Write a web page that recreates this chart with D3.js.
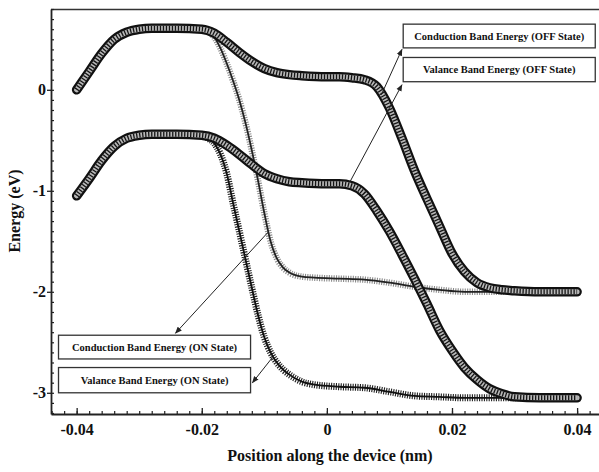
<!DOCTYPE html>
<html>
<head>
<meta charset="utf-8">
<script src="https://cdn.jsdelivr.net/npm/d3@7"></script>
<style>
  body { margin: 0; background: #fff; }
  text { font-family: "Liberation Serif", "Times New Roman", serif; font-weight: bold; fill: #111; }
</style>
</head>
<body>
<div id="chart"></div>
<script>
// position along the device (nm) for the OFF-state curves
var positionOff = [-0.040, -0.038, -0.036, -0.034, -0.032, -0.030, -0.028, -0.024, -0.020, -0.018,
                   -0.016, -0.014, -0.012, -0.010, -0.008, -0.006, -0.004, 0.000, 0.002, 0.004,
                   0.006, 0.008, 0.010, 0.012, 0.014, 0.016, 0.018, 0.020, 0.022, 0.024,
                   0.026, 0.028, 0.030, 0.034, 0.040];
var conductionOff = [0.00, 0.18, 0.36, 0.50, 0.57, 0.60, 0.61, 0.61, 0.60, 0.56,
                     0.47, 0.37, 0.28, 0.21, 0.17, 0.15, 0.14, 0.13, 0.13, 0.12,
                     0.10, 0.03, -0.18, -0.48, -0.80, -1.08, -1.35, -1.62, -1.80, -1.91,
                     -1.96, -1.98, -1.99, -2.00, -2.00];
var valenceOff = [-1.05, -0.88, -0.70, -0.56, -0.48, -0.45, -0.44, -0.44, -0.45, -0.48,
                  -0.55, -0.64, -0.74, -0.83, -0.88, -0.91, -0.92, -0.93, -0.93, -0.95,
                  -1.03, -1.20, -1.40, -1.63, -1.87, -2.12, -2.38, -2.58, -2.75, -2.87,
                  -2.96, -3.01, -3.04, -3.05, -3.05];

// position along the device (nm) for the ON-state curves
var positionOn = [-0.040, -0.038, -0.036, -0.034, -0.032, -0.030, -0.028, -0.024, -0.020, -0.019,
                  -0.018, -0.017, -0.016, -0.015, -0.014, -0.013, -0.012, -0.011, -0.010, -0.009,
                  -0.008, -0.007, -0.006, -0.004, -0.002, 0.002, 0.006, 0.010, 0.014, 0.018,
                  0.022, 0.030, 0.040];
var conductionOn = [0.00, 0.18, 0.36, 0.50, 0.57, 0.60, 0.61, 0.61, 0.60, 0.58,
                    0.52, 0.41, 0.26, 0.09, -0.10, -0.33, -0.60, -0.90, -1.22, -1.50,
                    -1.67, -1.76, -1.81, -1.85, -1.86, -1.87, -1.88, -1.91, -1.95, -1.98,
                    -2.00, -2.00, -2.00];
var valenceOn = [-1.05, -0.88, -0.70, -0.56, -0.48, -0.45, -0.44, -0.44, -0.45, -0.48,
                 -0.53, -0.64, -0.83, -1.12, -1.40, -1.68, -1.96, -2.23, -2.45, -2.60,
                 -2.70, -2.77, -2.82, -2.89, -2.92, -2.94, -2.95, -2.99, -3.03, -3.04,
                 -3.05, -3.05, -3.05];

// axis ticks
var xTickValues = [-0.04, -0.02, 0, 0.02, 0.04];
var xTickLabels = ["-0.04", "-0.02", "0", "0.02", "0.04"];
var yTickValues = [0, -1, -2, -3];
var yTickLabels = ["0", "-1", "-2", "-3"];

// annotation boxes (label, box corners in data units, arrow from curve to box)
var noteLabels = ["Conduction Band Energy (OFF State)", "Valance Band Energy (OFF State)",
                  "Conduction Band Energy (ON State)", "Valance Band Energy (ON State)"];
var noteBoxX = [[0.0122, 0.0429], [0.0122, 0.0429], [-0.0429, -0.0122], [-0.0429, -0.0122]];
var noteBoxY = [[0.65, 0.415], [0.32, 0.08], [-2.43, -2.665], [-2.75, -3.0]];
var noteFrom = [[0.0087, -0.05], [0.0037, -0.91], [-0.0094, -1.41], [-0.0087, -2.65]];
var noteTo = [[0.0120, 0.40], [0.0120, 0.05], [-0.0242, -2.41], [-0.0119, -2.90]];

var width = 599, height = 472;

var svg = d3.select("#chart")
    .append("svg")
    .attr("width", width)
    .attr("height", height);

var x = d3.scaleLinear().domain([-0.0441, 0.0435]).range([51, 599]);
var y = d3.scaleLinear().domain([0.80, -3.21]).range([9, 414]);

function lineFor(pos) {
    return d3.line()
        .x(function(d, i) { return x(pos[i]); })
        .y(function(d) { return y(d); })
        .curve(d3.curveMonotoneX);
}

// frame: top border
svg.append("line")
    .attr("x1", 51).attr("x2", 599)
    .attr("y1", 9.5).attr("y2", 9.5)
    .attr("stroke", "#333").attr("stroke-width", 1.5);

// x axis: minor ticks then major ticks with labels
svg.append("g")
    .attr("transform", "translate(0,414)")
    .call(d3.axisBottom(x).tickValues(d3.range(-44, 44, 2).map(function(v) { return v / 1000; }))
        .tickSize(-3).tickFormat(""))
    .call(function(g) { g.select(".domain").remove(); })
    .selectAll("line").attr("stroke", "#222").attr("stroke-width", 1.2);

var xAxis = svg.append("g")
    .attr("transform", "translate(0,414)")
    .call(d3.axisBottom(x).tickValues(xTickValues).tickSizeInner(-6).tickSizeOuter(0).tickPadding(10)
        .tickFormat(function(d, i) { return xTickLabels[i]; }));
xAxis.select(".domain").attr("stroke", "#222").attr("stroke-width", 1.8);
xAxis.selectAll("line").attr("stroke", "#222").attr("stroke-width", 1.3);
xAxis.selectAll("text").style("font-size", "16px").attr("fill", "#111");

// y axis
svg.append("g")
    .attr("transform", "translate(51,0)")
    .call(d3.axisLeft(y).tickValues(d3.range(-32, 9, 1).map(function(v) { return v / 10; }))
        .tickSize(-3).tickFormat(""))
    .call(function(g) { g.select(".domain").remove(); })
    .selectAll("line").attr("stroke", "#222").attr("stroke-width", 1.2);

var yAxis = svg.append("g")
    .attr("transform", "translate(51,0)")
    .call(d3.axisLeft(y).tickValues(yTickValues).tickSizeInner(4).tickSizeOuter(0).tickPadding(1)
        .tickFormat(function(d, i) { return yTickLabels[i]; }));
yAxis.select(".domain").attr("stroke", "#222").attr("stroke-width", 1.8);
yAxis.selectAll("line").attr("stroke", "#222").attr("stroke-width", 1.3);
yAxis.selectAll("text").style("font-size", "16px").attr("fill", "#111");

// axis titles
svg.append("text")
    .attr("x", 330).attr("y", 461)
    .attr("text-anchor", "middle")
    .style("font-size", "16px")
    .text("Position along the device (nm)");

svg.append("text")
    .attr("transform", "translate(20,211) rotate(-90)")
    .attr("text-anchor", "middle")
    .style("font-size", "16px")
    .text("Energy (eV)");

// ON-state curves: hatched band (cross markers) with a thin solid line
var onCurves = [
    {values: conductionOn, hatch: "#8c8c8c", line: "#222", width: 6.5},
    {values: valenceOn, hatch: "#1e1e1e", line: "#111", width: 7}
];
onCurves.forEach(function(c) {
    var gen = lineFor(positionOn);
    svg.append("path").datum(c.values)
        .attr("d", gen).attr("fill", "none")
        .attr("stroke", c.hatch).attr("stroke-width", c.width)
        .attr("stroke-dasharray", "1.1 1.3");
    svg.append("path").datum(c.values)
        .attr("d", gen).attr("fill", "none")
        .attr("stroke", c.line).attr("stroke-width", 1.8);
});

// OFF-state curves: tube of open markers
[conductionOff, valenceOff].forEach(function(vals) {
    var gen = lineFor(positionOff);
    svg.append("path").datum(vals)
        .attr("d", gen).attr("fill", "none")
        .attr("stroke", "#111").attr("stroke-width", 9.5)
        .attr("stroke-linecap", "round").attr("stroke-linejoin", "round");
    svg.append("path").datum(vals)
        .attr("d", gen).attr("fill", "none")
        .attr("stroke", "#b8b8b8").attr("stroke-width", 5)
        .attr("stroke-linecap", "round");
    svg.append("path").datum(vals)
        .attr("d", gen).attr("fill", "none")
        .attr("stroke", "#151515").attr("stroke-width", 5)
        .attr("stroke-dasharray", "1.3 1.7");
});

// arrow head marker
svg.append("defs").append("marker")
    .attr("id", "arrow")
    .attr("viewBox", "0 0 10 10")
    .attr("refX", 9).attr("refY", 5)
    .attr("markerWidth", 7).attr("markerHeight", 7)
    .attr("markerUnits", "userSpaceOnUse")
    .attr("orient", "auto")
    .append("path")
    .attr("d", "M0,1 L10,5 L0,9 Z")
    .attr("fill", "#222");

// annotations
noteLabels.forEach(function(label, i) {
    var x0 = x(noteBoxX[i][0]), x1 = x(noteBoxX[i][1]);
    var y0 = y(noteBoxY[i][0]), y1 = y(noteBoxY[i][1]);
    svg.append("rect")
        .attr("x", x0).attr("y", y0)
        .attr("width", x1 - x0).attr("height", y1 - y0)
        .attr("fill", "#fff")
        .attr("stroke", "#333").attr("stroke-width", 1.3);
    svg.append("text")
        .attr("x", (x0 + x1) / 2).attr("y", (y0 + y1) / 2 + 3.5)
        .attr("text-anchor", "middle")
        .style("font-size", "10.5px")
        .text(label);
    svg.append("line")
        .attr("x1", x(noteFrom[i][0])).attr("y1", y(noteFrom[i][1]))
        .attr("x2", x(noteTo[i][0])).attr("y2", y(noteTo[i][1]))
        .attr("stroke", "#222").attr("stroke-width", 1)
        .attr("marker-end", "url(#arrow)");
});
</script>
</body>
</html>
